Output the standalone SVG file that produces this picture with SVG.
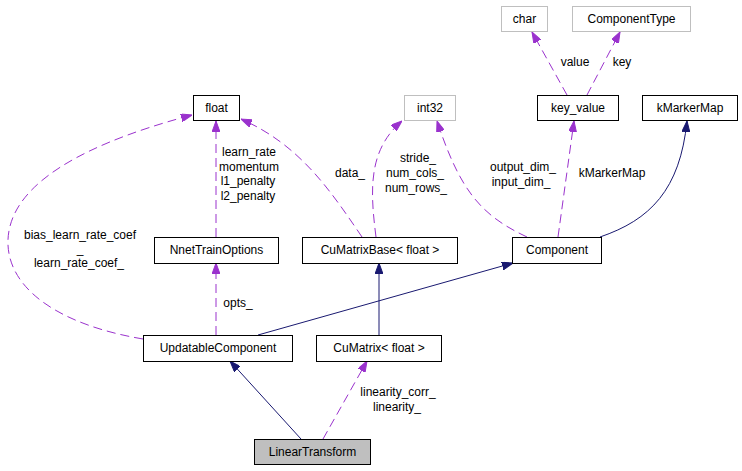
<svg xmlns="http://www.w3.org/2000/svg" width="742" height="471" viewBox="0 0 742 471">
<style>
text{font-family:"Liberation Sans",Arial,sans-serif;font-size:12px;fill:#000}
.box text,.lbl{text-anchor:middle}
.n{fill:#fff;stroke:#000;stroke-width:1}
.g{fill:#fff;stroke:#bfbfbf;stroke-width:1}
.cur{fill:#bfbfbf;stroke:#000;stroke-width:1}
.d{fill:none;stroke:#9a32cd;stroke-width:1;stroke-dasharray:9,5;marker-end:url(#ap)}
.s{fill:none;stroke:#191970;stroke-width:1;marker-end:url(#an)}
</style>
<defs>
<marker id="ap" viewBox="0 0 11 8" refX="11" refY="4" markerWidth="11" markerHeight="8" markerUnits="userSpaceOnUse" orient="auto"><path d="M0,0 L11,4 L0,8 z" fill="#9a32cd" stroke="#9a32cd"/></marker>
<marker id="an" viewBox="0 0 11 8" refX="11" refY="4" markerWidth="11" markerHeight="8" markerUnits="userSpaceOnUse" orient="auto"><path d="M0,0 L11,4 L0,8 z" fill="#191970" stroke="#191970"/></marker>
</defs>
<rect width="742" height="471" fill="#fff"/>
<g id="edges">
<path class="d" d="M143,339 C60,325 10,290 8,245 C6,195 60,150 192,115"/>
<path class="d" d="M216,237 L216,121"/>
<path class="d" d="M362,237 C330,190 300,145 241,119"/>
<path class="d" d="M376,237 C370,190 368,150 402,121"/>
<path class="d" d="M527,237 C480,215 460,190 437,121"/>
<path class="d" d="M558,237 L574,121"/>
<path class="d" d="M567,95 L532,32"/>
<path class="d" d="M587,95 L620,32"/>
<path class="s" d="M600,237 C650,220 680,190 687,121"/>
<path class="s" d="M258,335 L513,263"/>
<path class="s" d="M379,335 L379,263"/>
<path class="s" d="M301,439 L230,361"/>
<path class="d" d="M323,439 L367,361"/>
<path class="d" d="M216,335 L216,263"/>
<text class="lbl" x="80" y="239">bias_learn_rate_coef</text>
<text class="lbl" x="80" y="253">_</text>
<text class="lbl" x="79" y="267">learn_rate_coef_</text>
<text class="lbl" x="249" y="156">learn_rate</text>
<text class="lbl" x="249" y="171">momentum</text>
<text class="lbl" x="248" y="185">l1_penalty</text>
<text class="lbl" x="248" y="200">l2_penalty</text>
<text class="lbl" x="350" y="177">data_</text>
<text class="lbl" x="418" y="162">stride_</text>
<text class="lbl" x="415" y="177">num_cols_</text>
<text class="lbl" x="416" y="192">num_rows_</text>
<text class="lbl" x="523" y="171">output_dim_</text>
<text class="lbl" x="521" y="186">input_dim_</text>
<text class="lbl" x="612" y="177">kMarkerMap</text>
<text class="lbl" x="575" y="66">value</text>
<text class="lbl" x="622" y="66">key</text>
<text class="lbl" x="238" y="307">opts_</text>
<text class="lbl" x="398" y="396">linearity_corr_</text>
<text class="lbl" x="397" y="411">linearity_</text>
</g>
<g id="char" class="box"><rect class="g" x="501.5" y="6.5" width="46" height="25"/><text x="524.5" y="23">char</text></g>
<g id="ComponentType" class="box"><rect class="g" x="572.5" y="6.5" width="118" height="25"/><text x="631.5" y="23">ComponentType</text></g>
<g id="float" class="box"><rect class="n" x="193.5" y="95.5" width="46" height="25"/><text x="216.5" y="112">float</text></g>
<g id="int32" class="box"><rect class="g" x="404.5" y="95.5" width="51" height="25"/><text x="430" y="112">int32</text></g>
<g id="key_value" class="box"><rect class="n" x="537.5" y="95.5" width="81" height="25"/><text x="578" y="112">key_value</text></g>
<g id="kMarkerMap" class="box"><rect class="n" x="642.5" y="95.5" width="95" height="25"/><text x="690" y="112">kMarkerMap</text></g>
<g id="NnetTrainOptions" class="box"><rect class="n" x="154.5" y="237.5" width="124" height="26"/><text x="216.5" y="254">NnetTrainOptions</text></g>
<g id="CuMatrixBase" class="box"><rect class="n" x="302.5" y="237.5" width="155" height="26"/><text x="380" y="254">CuMatrixBase&lt; float &gt;</text></g>
<g id="Component" class="box"><rect class="n" x="512.5" y="237.5" width="89" height="26"/><text x="557" y="254">Component</text></g>
<g id="UpdatableComponent" class="box"><rect class="n" x="143.5" y="335.5" width="149" height="26"/><text x="218" y="352">UpdatableComponent</text></g>
<g id="CuMatrix" class="box"><rect class="n" x="316.5" y="335.5" width="125" height="26"/><text x="379" y="352">CuMatrix&lt; float &gt;</text></g>
<g id="LinearTransform" class="box"><rect class="cur" x="254.5" y="439.5" width="116" height="25"/><text x="312.5" y="456">LinearTransform</text></g>
</svg>
